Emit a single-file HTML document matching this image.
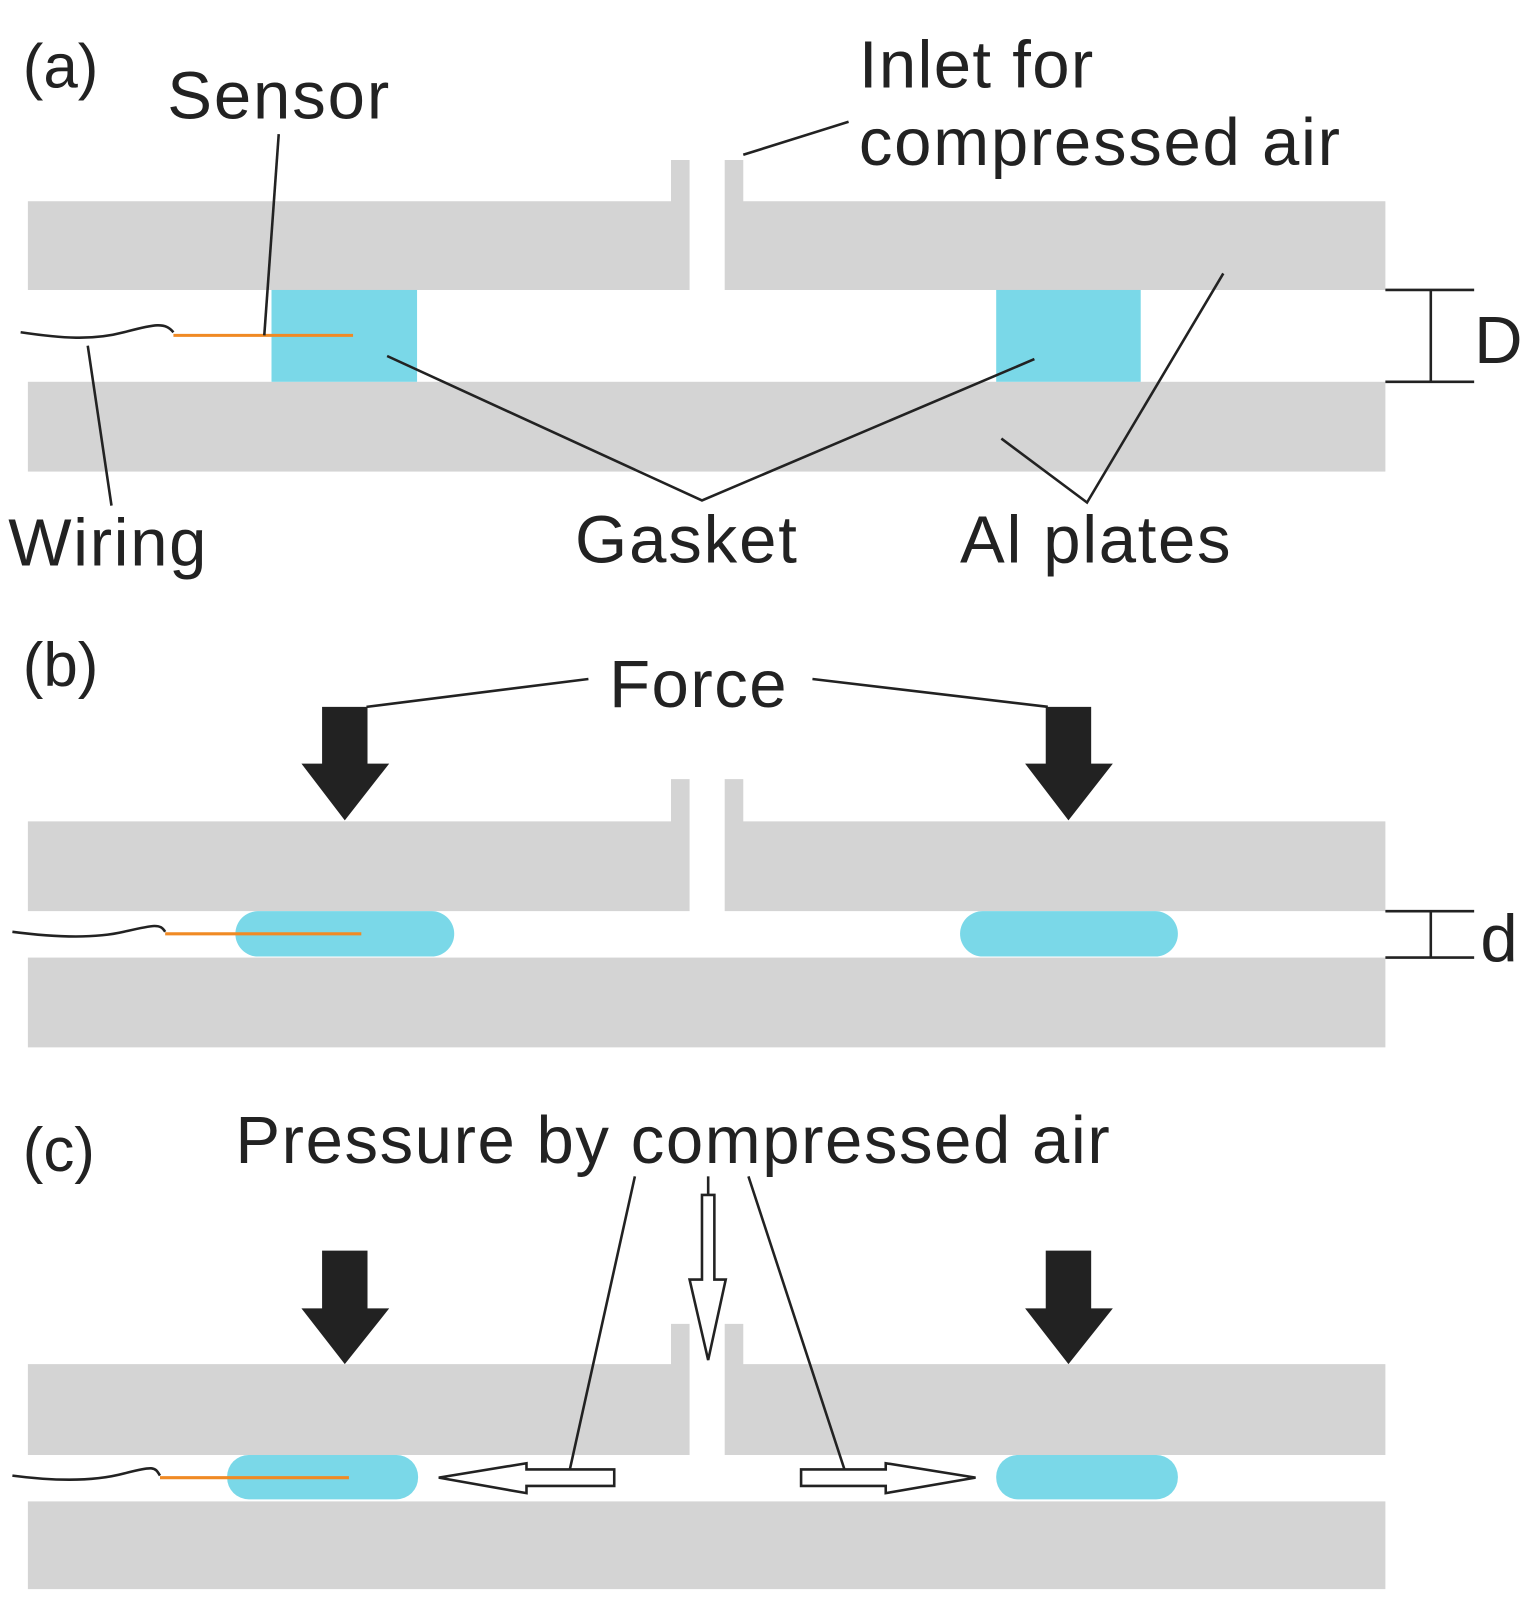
<!DOCTYPE html>
<html><head><style>html,body{margin:0;padding:0;background:#fff}svg{display:block}</style></head><body>
<svg width="1533" height="1618" viewBox="0 0 1485 1568" preserveAspectRatio="none" xmlns="http://www.w3.org/2000/svg" font-family="Liberation Sans, Arial, sans-serif" fill="#222">
<g fill="#d4d4d4">
<path d="M27 195H650V155H668V281H27Z"/><path d="M702 155H720V195H1342V281H702Z"/>
<rect x="27" y="370" width="1315" height="87"/>
<path d="M27 796H650V755H668V883H27Z"/><path d="M702 755H720V796H1342V883H702Z"/>
<rect x="27" y="928" width="1315" height="87"/>
<path d="M27 1322H650V1283H668V1410H27Z"/><path d="M702 1283H720V1322H1342V1410H702Z"/>
<rect x="27" y="1455" width="1315" height="85"/>
</g>
<g fill="#7ad8e8">
<rect x="263" y="281" width="141" height="89"/><rect x="965" y="281" width="140" height="89"/>
<rect x="228" y="883" width="212" height="44" rx="22"/><rect x="930" y="883" width="211" height="44" rx="22"/>
<rect x="220" y="1410" width="185" height="43" rx="21"/><rect x="965" y="1410" width="176" height="43" rx="21"/>
</g>
<g stroke="#f08a24" stroke-width="3">
<line x1="168" y1="325" x2="342" y2="325"/><line x1="160" y1="905" x2="350" y2="905"/><line x1="155" y1="1432" x2="338" y2="1432"/>
</g>
<g stroke="#222" stroke-width="2.5" fill="none">
<path d="M20 322C60 328 90 330 120 322S160 312 168 322"/>
<path d="M12 903C50 908 90 910 120 903S155 895 160 903"/>
<path d="M12 1430C50 1435 90 1436 120 1428S150 1422 155 1430"/>
<path d="M270 130L256 325"/><path d="M720 150L822 118"/><path d="M108 490L85 335"/>
<path d="M375 345L680 485L1002 348"/><path d="M970 425L1053 487L1185 265"/>
<path d="M1342 281H1428M1342 370H1428M1386 281V370"/>
<path d="M1342 883H1428M1342 928H1428M1386 883V928"/>
<path d="M570 658L355 685M787 658L1015 685"/>
<path d="M615 1140L552 1424M725 1140L818 1424"/>
<path d="M686 1140V1158"/>
<path d="M680 1158H692V1240H703L686 1318L668 1240H680Z" fill="#fff"/>
<path d="M595 1424V1440H510V1447L425 1432L510 1418V1424Z" fill="#fff"/>
<path d="M776 1424V1440H858V1447L945 1432L858 1418V1424Z" fill="#fff"/>
</g>
<g fill="#222">
<path d="M312 685H356V740H377L334 795L292 740H312Z"/><path d="M1013 685H1057V740H1078L1035 795L993 740H1013Z"/>
<path d="M312 1212H356V1268H377L334 1322L292 1268H312Z"/><path d="M1013 1212H1057V1268H1078L1035 1322L993 1268H1013Z"/>
</g>
<g font-size="65">
<text x="22" y="85" font-size="60">(a)</text>
<text x="162" y="115" textLength="215">Sensor</text>
<text x="832" y="85" textLength="227">Inlet for</text>
<text x="832" y="160" textLength="466">compressed air</text>
<text x="8" y="548" textLength="192">Wiring</text>
<text x="557" y="545" textLength="215">Gasket</text>
<text x="930" y="545" textLength="262">Al plates</text>
<text x="1428" y="352" font-size="65">D</text>
<text x="22" y="665" font-size="60">(b)</text>
<text x="590" y="685" textLength="172">Force</text>
<text x="1434" y="932" font-size="65">d</text>
<text x="22" y="1135" font-size="60">(c)</text>
<text x="228" y="1127" textLength="847">Pressure by compressed air</text>
</g>
</svg>
</body></html>
